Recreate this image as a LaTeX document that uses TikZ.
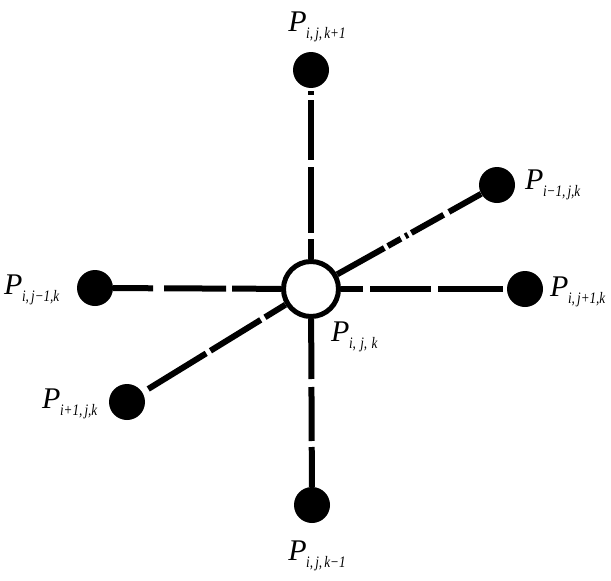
\documentclass[tikz,border=0pt]{standalone}
\usepackage{graphicx}
\usepackage{fontspec}
\setmainfont{Liberation Serif}
\newcommand\Plab[1]{{\fontsize{30}{30}\selectfont\itshape P}\kern-0.5pt\raisebox{-7.5pt}{\scalebox{0.82}[1]{\fontsize{16}{16}\selectfont\itshape #1}}}
\tikzset{
  full/.style={circle, fill=black, minimum size=36pt, inner sep=0pt},
  hollow/.style={circle, draw=black, line width=5pt, fill=white, minimum size=55pt, inner sep=0pt},
  conn/.style={line width=6pt, draw=black},
  lab/.style={inner sep=0pt, anchor=center}
}
\begin{document}
\begin{tikzpicture}[x=1pt,y=-1pt]
\useasboundingbox (0,0) rectangle (611,581);
% nodes
\node[hollow] (c)  at (311,289) {};
\node[full]   (t)  at (311,70)  {};
\node[full]   (b)  at (312,505) {};
\node[full]   (l)  at (95,288)  {};
\node[full]   (r)  at (525,289) {};
\node[full]   (ur) at (497,185) {};
\node[full]   (ll) at (127,402) {};
% connectors
\draw[conn, dash pattern=on 0pt off 3pt on 4pt off 5pt on 60pt off 7pt on 66pt off 6pt on 60pt] (t) -- (c);
\draw[conn, dash pattern=on 60pt off 8pt on 54pt off 6pt on 60pt] (c) -- (b);
\draw[conn, dash pattern=on 40pt off 11pt on 62pt off 6pt on 70pt] (l) -- (c);
\draw[conn, dash pattern=on 22pt off 7pt on 61pt off 7pt on 65pt off 5pt on 10pt] (c) -- (r);
\draw[conn, dash pattern=on 54pt off 4pt on 15pt off 5pt on 3pt off 4pt on 37pt off 6pt on 60pt] (c) -- (ur);
\draw[conn, dash pattern=on 24pt off 5pt on 59pt off 5pt on 68pt off 9pt] (c) -- (ll);
% labels
\node[lab] (tl)  at (317,27)  {\Plab{i,\,j,\,k+1}};
\node[lab] (bl)  at (317,556) {\Plab{i,\,j,\,k−1}};
\node[lab, anchor=west] (ll2) at (4,290)  {\Plab{i,\,j−1,k}};
\node[lab, anchor=west] (lll) at (42,404)  {\Plab{i+1,\,j,k}};
\node[lab, anchor=west] (cl)  at (331,337) {\Plab{i,\,\,j,\,\,k}};
\node[lab, anchor=west] (url) at (525,185) {\Plab{i−1,\,j,k}};
\node[lab, anchor=west] (rl)  at (550,292) {\Plab{i,\,j+1,k}};
\end{tikzpicture}
\end{document}
